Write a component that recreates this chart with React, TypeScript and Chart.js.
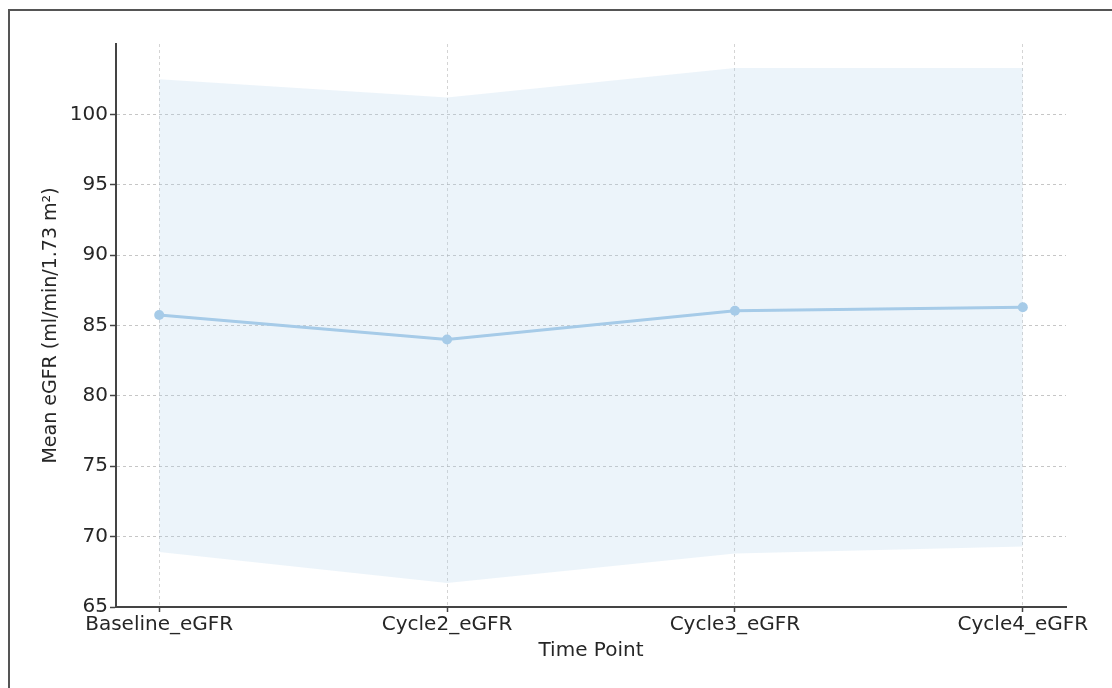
import React, { useEffect, useRef } from "react";
import { Chart, registerables } from "chart.js";

Chart.register(...registerables);

const categories = ["Baseline_eGFR", "Cycle2_eGFR", "Cycle3_eGFR", "Cycle4_eGFR"];
const meanValues = [85.75, 84.0, 86.05, 86.3];
const upperValues = [102.5, 101.2, 103.3, 103.3];
const lowerValues = [68.9, 66.7, 68.8, 69.3];
const yTickValues = [65, 70, 75, 80, 85, 90, 95, 100];
const xTickValues = [0, 1, 2, 3];

const FONT = "'DejaVu Sans', sans-serif";
const TEXT = "#262626";

export default function App() {
  const ref = useRef<HTMLCanvasElement | null>(null);

  useEffect(() => {
    if (!ref.current) return;
    const toPts = (arr: number[]) => arr.map((v, i) => ({ x: i, y: v }));
    const chart = new Chart(ref.current, {
      type: "line",
      data: {
        datasets: [
          {
            label: "Mean",
            data: toPts(meanValues),
            borderColor: "#a6cbe8",
            backgroundColor: "#a6cbe8",
            borderWidth: 3,
            pointRadius: 5,
            pointBackgroundColor: "#a6cbe8",
            pointBorderWidth: 0,
            fill: false,
            order: 0,
          },
          {
            label: "Upper",
            data: toPts(upperValues),
            borderColor: "rgba(0,0,0,0)",
            borderWidth: 0,
            pointRadius: 0,
            backgroundColor: "rgba(174,207,234,0.24)",
            fill: "+1",
            order: 1,
          },
          {
            label: "Lower",
            data: toPts(lowerValues),
            borderColor: "rgba(0,0,0,0)",
            borderWidth: 0,
            pointRadius: 0,
            fill: false,
            order: 2,
          },
        ],
      },
      options: {
        animation: false,
        responsive: false,
        maintainAspectRatio: false,
        layout: { padding: { left: 36, top: 44, right: 46, bottom: 24 } },
        plugins: {
          legend: { display: false },
          tooltip: { enabled: false },
        },
        scales: {
          x: {
            type: "linear",
            min: -0.15,
            max: 3.15,
            afterBuildTicks: (scale: any) => {
              scale.ticks = xTickValues.map((v) => ({ value: v }));
            },
            afterFit: (scale: any) => {
              scale.height = 57;
              scale.paddingLeft = 0;
              scale.paddingRight = 0;
            },
            ticks: {
              autoSkip: false,
              maxRotation: 0,
              minRotation: 0,
              padding: 1,
              color: TEXT,
              font: { family: FONT, size: 20 },
              callback: (v: any) => categories[Number(v)] ?? "",
            },
            grid: {
              color: "rgba(170,170,170,0.5)",
              lineWidth: 1,
              drawTicks: true,
              tickLength: 5,
              tickColor: "#444",
              tickBorderDash: [],
              tickWidth: 1.5,
            },
            border: { display: true, color: "#444", width: 2, dash: [3, 3] },
            title: {
              display: true,
              text: "Time Point",
              color: TEXT,
              font: { family: FONT, size: 20 },
              padding: { top: 0, bottom: 1 },
            },
          },
          y: {
            type: "linear",
            min: 65,
            max: 105,
            afterBuildTicks: (scale: any) => {
              scale.ticks = yTickValues.map((v) => ({ value: v }));
            },
            afterFit: (scale: any) => {
              scale.width = 80;
              scale.paddingTop = 0;
              scale.paddingBottom = 0;
            },
            ticks: {
              padding: 2,
              color: TEXT,
              font: { family: FONT, size: 20 },
            },
            grid: {
              color: "rgba(160,160,160,0.6)",
              lineWidth: 1,
              drawTicks: true,
              tickLength: 6,
              tickColor: "#444",
              tickBorderDash: [],
              tickWidth: 1.5,
            },
            border: { display: true, color: "#444", width: 2, dash: [3, 3] },
            title: {
              display: true,
              text: "Mean eGFR (ml/min/1.73 m²)",
              color: TEXT,
              font: { family: FONT, size: 19 },
              padding: { top: 4, bottom: 0 },
            },
          },
        },
      },
    });
    return () => chart.destroy();
  }, []);

  return (
    <div style={{ position: "fixed", left: 0, top: 0, width: 1112, height: 688, background: "#fff", overflow: "hidden" }}>
      <canvas ref={ref} width={1112} height={688} style={{ position: "absolute", left: 0, top: 0 }} />
      <div
        style={{
          position: "absolute",
          left: 8,
          top: 9,
          width: 1200,
          height: 800,
          borderTop: "2px solid #555",
          borderLeft: "2px solid #555",
          pointerEvents: "none",
        }}
      />
    </div>
  );
}
